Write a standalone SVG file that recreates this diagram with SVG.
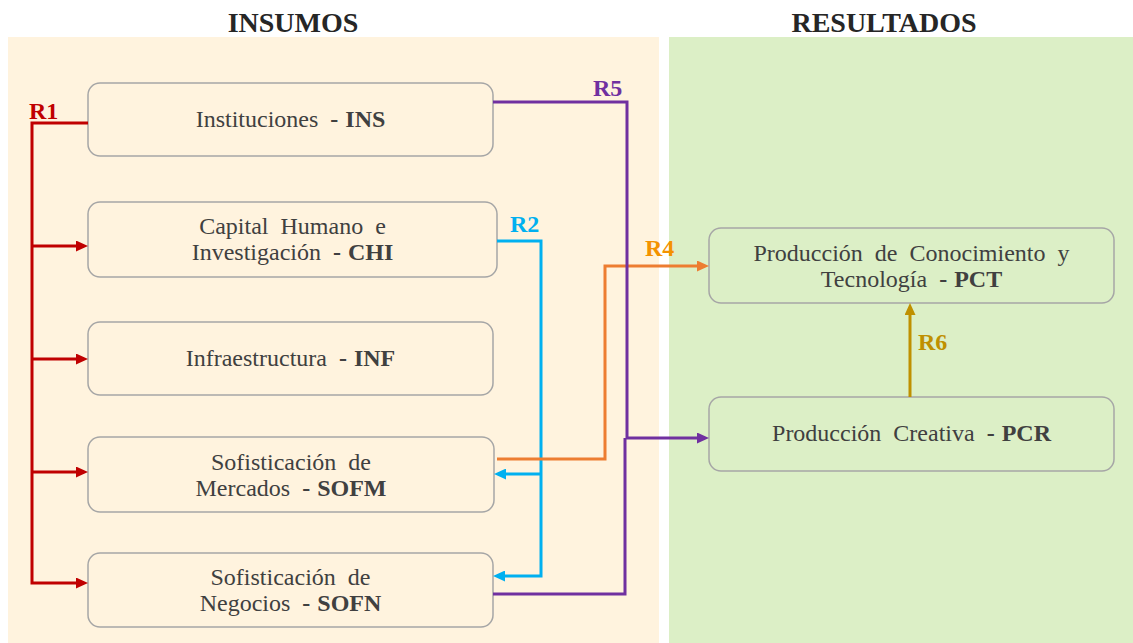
<svg xmlns="http://www.w3.org/2000/svg" width="1133" height="643" viewBox="0 0 1133 643">
  <defs>
    <style>
      .title { font-family: "Liberation Serif", "Times New Roman", serif; font-size: 28px; font-weight: bold; fill: #262626; text-anchor: middle; }
      .box { fill: none; stroke: #A6A6A6; stroke-width: 1.5; }
      .lbl { font-family: "Liberation Serif", "Times New Roman", serif; font-size: 24px; fill: #404040; text-anchor: middle; word-spacing: 6px; }
      .lbl tspan.code { font-weight: bold; word-spacing: 1px; }
      .rel { font-family: "Liberation Serif", "Times New Roman", serif; font-size: 24px; font-weight: bold; }
      .wire { fill: none; stroke-width: 3; stroke-linejoin: miter; }
    </style>
    <marker id="arRed" markerUnits="userSpaceOnUse" markerWidth="12" markerHeight="11" refX="8" refY="5.5" orient="auto">
      <path d="M0,0 L12,5.5 L0,11 z" fill="#C00000"/>
    </marker>
    <marker id="arBlue" markerUnits="userSpaceOnUse" markerWidth="12" markerHeight="11" refX="8" refY="5.5" orient="auto">
      <path d="M0,0 L12,5.5 L0,11 z" fill="#00B0F0"/>
    </marker>
    <marker id="arOrange" markerUnits="userSpaceOnUse" markerWidth="12" markerHeight="11" refX="8" refY="5.5" orient="auto">
      <path d="M0,0 L12,5.5 L0,11 z" fill="#ED7D31"/>
    </marker>
    <marker id="arPurple" markerUnits="userSpaceOnUse" markerWidth="12" markerHeight="11" refX="8" refY="5.5" orient="auto">
      <path d="M0,0 L12,5.5 L0,11 z" fill="#7030A0"/>
    </marker>
    <marker id="arGold" markerUnits="userSpaceOnUse" markerWidth="12" markerHeight="11" refX="8" refY="5.5" orient="auto">
      <path d="M0,0 L12,5.5 L0,11 z" fill="#BF9000"/>
    </marker>
  </defs>

  <rect width="1133" height="643" fill="#FFFFFF"/>

  <!-- column panels -->
  <g id="panels">
    <rect x="8" y="37" width="651" height="606" fill="#FFF3DE"/>
    <rect x="669" y="37" width="464" height="606" fill="#DCEFC6"/>
    <text class="title" x="293" y="32">INSUMOS</text>
    <text class="title" x="884" y="32">RESULTADOS</text>
  </g>

  <!-- input nodes -->
  <g id="ins">
    <rect class="box" x="88" y="83" width="405" height="73" rx="12"/>
    <text class="lbl" x="290.5" y="127">Instituciones <tspan class="code">- INS</tspan></text>
  </g>
  <g id="chi">
    <rect class="box" x="88" y="202" width="409" height="75" rx="12"/>
    <text class="lbl" x="292.5" y="234">Capital Humano e</text>
    <text class="lbl" x="292.5" y="260">Investigación <tspan class="code">- CHI</tspan></text>
  </g>
  <g id="inf">
    <rect class="box" x="88" y="322" width="405" height="73" rx="12"/>
    <text class="lbl" x="290.5" y="366">Infraestructura <tspan class="code">- INF</tspan></text>
  </g>
  <g id="sofm">
    <rect class="box" x="88" y="437" width="406" height="75" rx="12"/>
    <text class="lbl" x="291" y="470">Sofisticación de</text>
    <text class="lbl" x="291" y="496">Mercados <tspan class="code">- SOFM</tspan></text>
  </g>
  <g id="sofn">
    <rect class="box" x="88" y="553" width="405" height="74" rx="12"/>
    <text class="lbl" x="290.5" y="585">Sofisticación de</text>
    <text class="lbl" x="290.5" y="611">Negocios <tspan class="code">- SOFN</tspan></text>
  </g>

  <!-- output nodes -->
  <g id="pct">
    <rect class="box" x="709" y="228" width="405" height="75" rx="12"/>
    <text class="lbl" x="911.5" y="261">Producción de Conocimiento y</text>
    <text class="lbl" x="911.5" y="287">Tecnología <tspan class="code">- PCT</tspan></text>
  </g>
  <g id="pcr">
    <rect class="box" x="709" y="397" width="405" height="74" rx="12"/>
    <text class="lbl" x="911.5" y="441">Producción Creativa <tspan class="code">- PCR</tspan></text>
  </g>

  <!-- relations -->
  <g id="connectors">
    <!-- R1: INS feeds every other input -->
    <g stroke="#C00000">
      <path class="wire" d="M88,123 H32 V583 H84" marker-end="url(#arRed)"/>
      <path class="wire" d="M32,246 H84" marker-end="url(#arRed)"/>
      <path class="wire" d="M32,359 H84" marker-end="url(#arRed)"/>
      <path class="wire" d="M32,472 H84" marker-end="url(#arRed)"/>
    </g>
    <text class="rel" x="29" y="119" fill="#C00000">R1</text>

    <!-- R2: CHI to SOFM and SOFN -->
    <g stroke="#00B0F0">
      <path class="wire" d="M497,241 H541 V576 H497" marker-end="url(#arBlue)"/>
      <path class="wire" d="M541,474 H498" marker-end="url(#arBlue)"/>
    </g>
    <text class="rel" x="510" y="232" fill="#00B0F0">R2</text>

    <!-- R4: SOFM to PCT -->
    <path class="wire" stroke="#ED7D31" d="M497,459 H605 V266 H705" marker-end="url(#arOrange)"/>
    <text class="rel" x="645" y="256" fill="#F39200">R4</text>

    <!-- R5: INS and SOFN to PCR -->
    <g stroke="#7030A0">
      <path class="wire" d="M493,102 H627 V438 H705" marker-end="url(#arPurple)"/>
      <path class="wire" d="M493,594 H625 V438"/>
    </g>
    <text class="rel" x="593" y="96" fill="#7030A0">R5</text>

    <!-- R6: PCR to PCT -->
    <path class="wire" stroke="#BF9000" d="M910,397 V307" marker-end="url(#arGold)"/>
    <text class="rel" x="918" y="350" fill="#BF9000">R6</text>
  </g>
</svg>
